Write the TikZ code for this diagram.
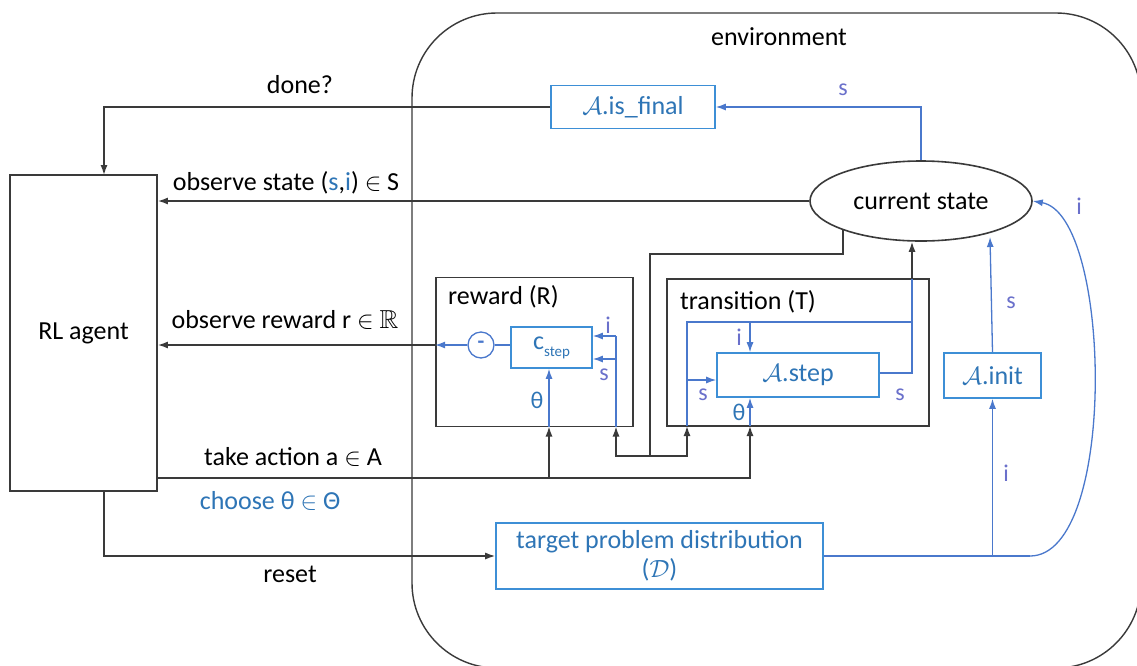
\documentclass[tikz,border=0pt]{standalone}
\usepackage{fontspec}
\setmainfont{Carlito}
\usepackage{amssymb}
\usetikzlibrary{arrows.meta,shapes.geometric,calc}
\definecolor{boxblue}{HTML}{3D8FD6}
\definecolor{txtblue}{HTML}{2E75B6}
\definecolor{lineblue}{HTML}{4A78CC}
\definecolor{lblblue}{HTML}{6A70CB}
\definecolor{dk}{HTML}{3A3A3A}
\tikzset{
  lbl/.style={font=\fontsize{26}{31}\selectfont, text=black, inner sep=0pt},
  blbl/.style={font=\fontsize{24}{29}\selectfont, text=lblblue, inner sep=0pt},
  blk/.style={draw=dk, line width=1.4pt},
  bl/.style={draw=lineblue, line width=1.3pt},
  tip/.style={-{Latex[length=10pt,width=7pt]}},
  kbox/.style 2 args={draw=dk, line width=1.8pt, fill=white, inner sep=0pt,
    minimum width=#1, minimum height=#2, font=\fontsize{26}{31}\selectfont},
  bbox/.style 2 args={draw=boxblue, line width=1.6pt, fill=white, inner sep=0pt,
    text=txtblue, minimum width=#1, minimum height=#2, font=\fontsize{26}{31}\selectfont, align=center}
}
\begin{document}
\begin{tikzpicture}[x=1pt,y=-1pt]
\useasboundingbox (0,0) rectangle (1137,665);
\clip (0,0) rectangle (1137,665);
\fill[white] (0,0) rectangle (1137,665);

% environment
\draw[dk, line width=1.4pt, rounded corners=85pt] (412,13) rectangle (1141,668);
\node[lbl] (envlbl) at (779,37) {environment};

% nodes
\node[kbox={147pt}{316pt}] (agent) at (83.5,333) {RL agent};
\node[bbox={164pt}{43pt}] (isfinal) at (633,107) {$\mathcal{A}$.is\_final};
\node[draw=dk, line width=1.6pt, fill=white, ellipse, inner sep=0pt, minimum width=222pt, minimum height=80pt,
  font=\fontsize{26}{31}\selectfont] (cs) at (921,201) {current state};
\node[kbox={197pt}{149pt}] (reward) at (534.5,352) {};
\node[lbl, anchor=west] (rewlbl) at (448,297) {reward (R)};
\node[kbox={262pt}{147pt}] (trans) at (798,352.5) {};
\node[lbl, anchor=west] (trlbl) at (680,302) {transition (T)};
\node[bbox={81pt}{41pt}] (cstep) at (551.5,347.5) {c\raisebox{-7pt}{\fontsize{15}{15}\selectfont step}};
\node[draw=lineblue, line width=1.3pt, circle, minimum size=26pt, inner sep=0pt, text=lineblue,
  font=\fontsize{22}{22}\selectfont\bfseries] (minus) at (481,345) {-};
\node[bbox={162pt}{44pt}] (astep) at (798,375) {$\mathcal{A}$.step};
\node[bbox={97pt}{45pt}] (ainit) at (992.5,375.5) {$\mathcal{A}$.init};
\node[bbox={327pt}{66pt}, font=\fontsize{26}{29}\selectfont] (target) at (659.5,556) {target problem distribution\\($\mathcal{D}$)};

% coordinates
\coordinate (aTop) at (104,175);
\coordinate (aBot) at (104,491);
\coordinate (aAct) at (157,478);
\coordinate (rTh) at (549,426.5);
\coordinate (rS) at (616,426.5);
\coordinate (tS) at (687,426);
\coordinate (tTh) at (750,426);
\coordinate (jX) at (650,254);
\coordinate (jB) at (650,456);
\coordinate (csOut) at (843,230);
\coordinate (tTop) at (912,279);
\coordinate (tRow) at (687,322);
\coordinate (tCorner) at (912,322);
\coordinate (csInit) at (990,237);
\coordinate (bend) at (1030,556);

% black connectors
\draw[blk,tip] (isfinal.west) -| (aTop);
\draw[blk,tip] (cs.west) -- (cs.west -| agent.east);
\draw[blk,tip] (minus.west -| reward.west) -- (minus.west -| agent.east);
\draw[blk,tip] (aAct) -| (tTh);
\draw[blk,tip] (aAct -| rTh) -- (rTh);
\draw[blk] (csOut) |- (jX) -- (jB);
\draw[blk,tip] (jB) -| (rS);
\draw[blk,tip] (jB) -| (tS);
\draw[blk,tip] (tTop) -- (tTop |- cs.south);
\draw[blk,tip] (aBot) |- (target.west);

% blue connectors
\draw[bl,tip] (cs.north) |- (isfinal.east);
\draw[bl,tip] (minus.west) -- (minus.west -| reward.west);
\draw[bl] (minus.east) -- (minus.east -| cstep.west);
\draw[bl,tip] (rTh) -- (rTh |- cstep.south);
\draw[bl] (rS) -- ($(rS |- cstep.east)+(0,-11.5)$);
\draw[bl,tip] ($(rS |- cstep.east)+(0,-11.5)$) -- ($(cstep.east)+(0,-11.5)$);
\draw[bl,tip] ($(rS |- cstep.east)+(0,11.5)$) -- ($(cstep.east)+(0,11.5)$);
\draw[bl] (tS) -- (tRow) -- (tCorner);
\draw[bl,tip] (tS |- 0,380) -- (astep.west |- 0,380);
\draw[bl,tip] (tTh |- tRow) -- (tTh |- astep.north);
\draw[bl,tip] (tTh) -- (tTh |- astep.south);
\draw[bl] ($(astep.east)+(0,-2)$) -| (tTop);
\draw[bl,tip] (ainit.north) -- (csInit);
\draw[bl] (target.east) -- (bend);
\draw[bl,tip] (target.east -| ainit.south) -- (ainit.south);
\draw[bl,tip] (bend) .. controls (1118,556) and (1112,215) .. (cs.east);

% labels
\node[lbl] (ldone) at (300,85) {done?};
\node[lbl] (lobs) at (286,183) {observe state ({\color{txtblue}s},{\color{txtblue}i}) $\in$ S};
\node[lbl] (lrew) at (285,320) {observe reward r $\in$ $\mathbb{R}$};
\node[lbl] (lact) at (293,457) {take action a $\in$ A};
\node[lbl, text=txtblue] (lth) at (270,501) {choose θ $\in$ Θ};
\node[lbl] (lreset) at (290,574) {reset};
\node[blbl] (ls1) at (843,90) {s};
\node[blbl] (li1) at (608,325) {i};
\node[blbl] (ls2) at (604,375) {s};
\node[blbl, text=txtblue] (lt1) at (537,400) {θ};
\node[blbl] (li2) at (739,337) {i};
\node[blbl] (ls3) at (703,395) {s};
\node[blbl, text=txtblue] (lt2) at (739,412) {θ};
\node[blbl] (ls4) at (900,395) {s};
\node[blbl] (ls5) at (1011,303) {s};
\node[blbl] (li3) at (1006,473) {i};
\node[blbl] (li4) at (1079,206) {i};
\end{tikzpicture}
\end{document}
